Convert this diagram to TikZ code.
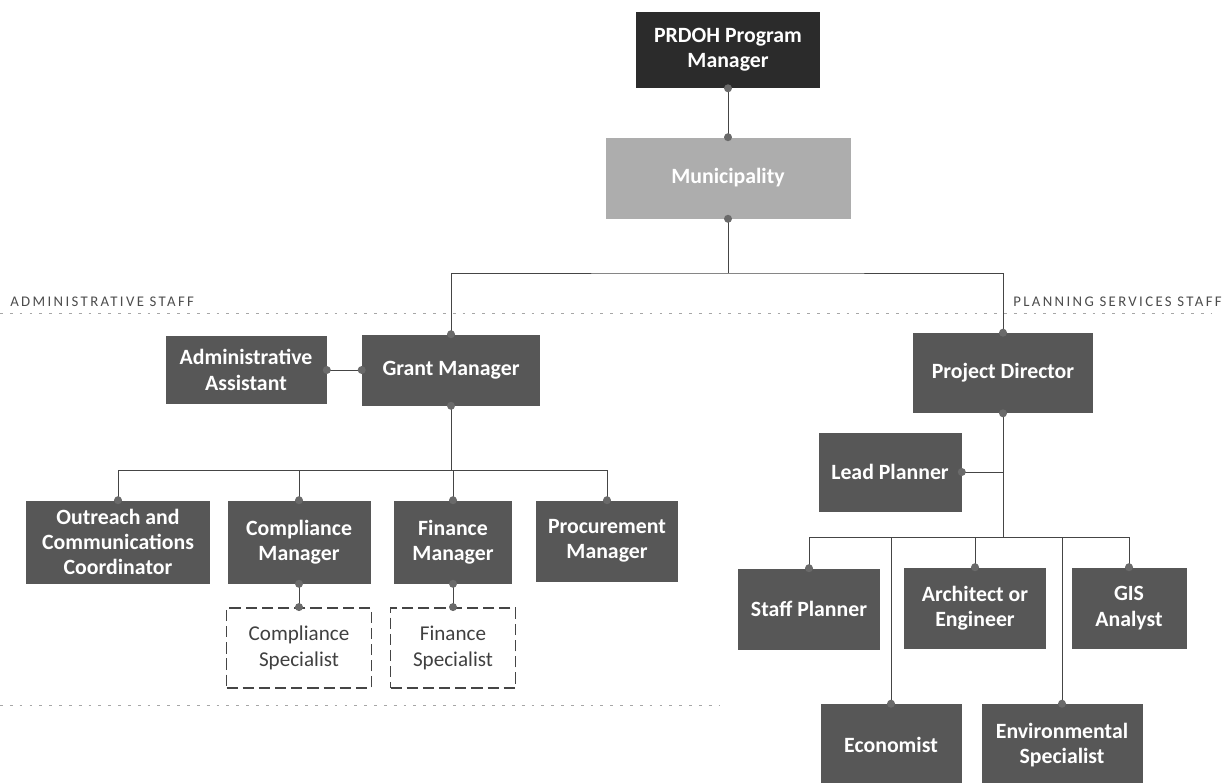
\documentclass[tikz,border=0pt]{standalone}
\usepackage{fontspec}
\setmainfont{Carlito}
\newfontfamily\stafffont[LetterSpace=16]{Carlito}
\usetikzlibrary{calc}
\definecolor{boxgray}{HTML}{575757}
\definecolor{topgray}{HTML}{2B2B2B}
\definecolor{mungray}{HTML}{ADADAD}
\definecolor{linegray}{HTML}{454545}
\definecolor{dotgray}{HTML}{6A6A6A}
\def\u{0.025cm}
\tikzset{
  wh/.style 2 args={minimum width=#1*\u, minimum height=#2*\u},
  role/.style={fill=boxgray, text=white, align=center, inner sep=0pt,
    font=\fontsize{15.5}{18}\selectfont\bfseries},
  openrole/.style={draw=linegray, line width=1.3pt, dash pattern=on 8pt off 3.5pt,
    text=black!75, align=center, inner sep=0pt, font=\fontsize{15}{19}\selectfont},
  link/.style={draw=linegray, line width=0.7pt},
  staff/.style={font=\stafffont\fontsize{10.5}{12}\selectfont, text=black!70, inner sep=0pt},
  sepline/.style={black!35, line width=0.6pt, dash pattern=on 2pt off 5pt},
}

\begin{document}
\begin{tikzpicture}[x=\u, y=-\u]
  \useasboundingbox (0,0) rectangle (1225,783);

  % top of the chart
  \node[role, wh={184}{76}, fill=topgray] (pm) at (728,50) {PRDOH Program\\Manager};
  \node[role, wh={245}{81}, fill=mungray] (mun) at (728,178) {Municipality};

  % the two staff groups
  \draw[sepline] (0,313) -- (1212,313);
  \draw[sepline] (0,705) -- (720,705);
  \node[staff, anchor=base west] (adm) at (10,306) {ADMINISTRATIVE STAFF};
  \node[staff, anchor=base east] (pls) at (1222,306) {PLANNING SERVICES STAFF};

  % administrative staff
  \node[role, wh={178}{71}] (gm) at (451,370) {Grant Manager};
  \node[role, wh={161}{68}] (aa) at (246,370) {Administrative\\Assistant};
  \node[role, wh={184}{83}] (occ) at (118,542) {Outreach and\\Communications\\Coordinator};
  \node[role, wh={143}{83}] (cm) at (299,542) {Compliance\\Manager};
  \node[role, wh={118}{83}] (fm) at (453,542) {Finance\\Manager};
  \node[role, wh={142}{81}] (prm) at (607,541) {Procurement\\Manager};
  \node[openrole, wh={145}{80}] (cs) at (299,648) {Compliance\\Specialist};
  \node[openrole, wh={125}{80}] (fs) at (453,648) {Finance\\Specialist};

  % planning services staff
  \node[role, wh={180}{80}] (pd) at (1003,373) {Project Director};
  \node[role, wh={143}{79}] (lp) at (890,472) {Lead Planner};
  \node[role, wh={142}{81}] (sp) at (809,609) {Staff Planner};
  \node[role, wh={142}{81}] (ae) at (975,608) {Architect or\\Engineer};
  \node[role, wh={115}{81}] (gis) at (1129,608) {GIS\\Analyst};
  \node[role, wh={141}{82}] (eco) at (891,745) {Economist};
  \node[role, wh={161}{82}] (env) at (1062,745) {Environmental\\Specialist};

  % connectors
  \coordinate (topbus) at (728,273);
  \coordinate (gbus) at (451,470);
  \coordinate (pbus) at (1003,537);
  \draw[link] (pm.south) -- (mun.north);
  \draw[link] (mun.south) -- (topbus);
  \draw[link] (gm.north) |- (topbus) -| (pd.north);
  \draw[link] (aa.east) -- (gm.west);
  \draw[link] (gm.south) -- (gbus);
  \foreach \n in {occ,cm,fm,prm}
    \draw[link] (\n.north) |- (gbus);
  \draw[link] (cm.south) -- (cs.north);
  \draw[link] (fm.south) -- (fs.north);
  \draw[link] (pd.south) -- (pbus);
  \draw[link] (lp.east) -- (lp.east -| pd.south);
  \foreach \n in {sp,ae,gis,eco,env}
    \draw[link] (\n.north) |- (pbus);

  % dots at the ends of the connectors
  \foreach \p in {pm.south,mun.north,mun.south,gm.north,gm.south,gm.west,aa.east,
                  occ.north,cm.north,fm.north,prm.north,cm.south,fm.south,cs.north,fs.north,
                  pd.north,pd.south,lp.east,sp.north,ae.north,gis.north,eco.north,env.north}
    \fill[dotgray] (\p) circle (4*\u);
\end{tikzpicture}
\end{document}
